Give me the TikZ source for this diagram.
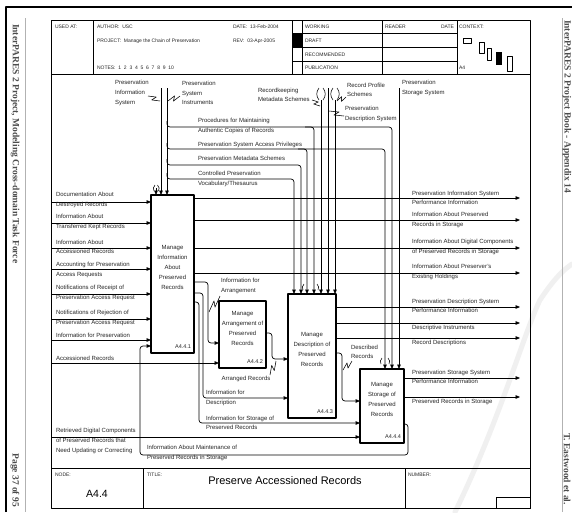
\documentclass[tikz,border=0pt]{standalone}
\usepackage{fontspec}
\setmainfont{Liberation Sans}
\newfontfamily\sideserif{Liberation Serif}
\usetikzlibrary{arrows.meta,calc}
\newcommand{\squig}[2]{\draw[squigline] #1 -- ($#1!0.62!#2!2.2pt!90:#2$) -- ($#1!0.38!#2!2.2pt!-90:#2$) -- #2;}
\begin{document}
\begin{tikzpicture}[x=1pt,y=-1pt, line join=round,
 every node/.style={inner sep=0pt, outer sep=0pt},
 lab/.style={font=\fontsize{6}{9.6}\selectfont, align=left, text=black!85},
 hd/.style={font=\fontsize{5}{6}\selectfont, anchor=base west, text=black!85},
 fbox/.style={draw, line width=1.3pt, fill=white},
 btext/.style={font=\fontsize{6}{10}\selectfont, align=center, text=black!85},
 idl/.style={font=\fontsize{5.5}{6}\selectfont, anchor=base east, text=black!85},
 wire/.style={line width=0.7pt, rounded corners=3pt},
 arr/.style={wire, -{Triangle[length=4.5pt,width=3.6pt]}},
 squigline/.style={line width=0.55pt},
 tun/.style={line width=0.55pt},
 side/.style={font=\sideserif\bfseries\fontsize{9.5}{10}\selectfont, text=black!70, rotate=-90}]
\useasboundingbox (0,0) rectangle (572,512);
% page
\fill[white] (0,0) rectangle (572,512);
\draw[gray!12, line width=5pt, line cap=round] (455,512) .. controls (500,420) and (525,330) .. (540,300) .. controls (550,285) and (560,272) .. (572,264);
\draw[line width=2pt] (6,512) -- (6,7) -- (572,7);
\draw[gray!60, line width=0.5pt] (25,18) -- (25,512);
\draw[gray!60, line width=0.5pt] (562,18) -- (562,512);
\node[side, anchor=west] (lt) at (15,24) {InterPARES 2 Project, Modeling Cross-domain Task Force};
\node[side, anchor=east] (lp) at (15,507) {Page 37 of 95};
\node[side, anchor=west] (rt) at (567,20) {InterPARES 2 Project Book - Appendix 14};
\node[side, anchor=east] (rp) at (567,505) {T. Eastwood et al.};
% frame and header
\draw[line width=0.7pt] (51,20) rectangle (530,508);
\draw[line width=0.7pt] (51,74) -- (530,74) (51,468) -- (530,468);
\draw[line width=0.6pt] (93,20)--(93,74) (292,20)--(292,74) (302,20)--(302,74) (382,20)--(382,74) (457,20)--(457,74);
\draw[line width=0.6pt] (292,33)--(457,33) (292,47)--(457,47) (292,61)--(457,61);
\fill (292,33) rectangle (302,47);
\draw[line width=0.5pt] (463,38) rectangle (471,43) (479,42) rectangle (484,53) (487,48) rectangle (491,60) (507,56) rectangle (512,71);
\fill (496,52) rectangle (502,65);
\node[hd] (h1) at (55,28) {USED AT:};
\node[hd] (h2) at (97,28) {AUTHOR:\ \ USC};
\node[hd] (h3) at (233,28) {DATE:\ \ 13-Feb-2004};
\node[hd] (h4) at (97,42) {PROJECT:\ \ Manage the Chain of Preservation};
\node[hd] (h5) at (233,42) {REV:\ \ 03-Apr-2005};
\node[hd] (h6) at (97,69) {NOTES:\ \ 1\ \ 2\ \ 3\ \ 4\ \ 5\ \ 6\ \ 7\ \ 8\ \ 9\ \ 10};
\node[hd] (h7) at (305,28) {WORKING};
\node[hd] (h8) at (305,42) {DRAFT};
\node[hd] (h9) at (305,56) {RECOMMENDED};
\node[hd] (h10) at (305,69) {PUBLICATION};
\node[hd] (h11) at (385,28) {READER};
\node[hd, anchor=base east] (h12) at (454,28) {DATE};
\node[hd] (h13) at (459,28) {CONTEXT:};
\node[hd] (h14) at (459,69) {A4};
% footer
\draw[line width=0.7pt] (143,468)--(143,508) (405,468)--(405,508) (496,497) rectangle (530,508);
\node[hd] (f1) at (55,476) {NODE:};
\node[hd] (f2) at (147,476) {TITLE:};
\node[hd] (f3) at (408,476) {NUMBER:};
\node[font=\fontsize{10.5}{12}\selectfont] (f4) at (97,494) {A4.4};
\node[font=\fontsize{11}{13}\selectfont] (f5) at (285,481) {Preserve Accessioned Records};
% boxes
\node[fbox, minimum width=43pt, minimum height=158pt] (b1) at (172.5,274) {};
\node[fbox, minimum width=47pt, minimum height=67pt] (b2) at (242.5,334.5) {};
\node[fbox, minimum width=48pt, minimum height=124pt] (b3) at (312,356) {};
\node[fbox, minimum width=44pt, minimum height=74pt] (b4) at (382,406) {};
\node[btext] (t1) at ($(b1.center)+(0,-6.5)$) {Manage\\Information\\About\\Preserved\\Records};
\node[btext] (t2) at ($(b2.center)+(0,-6.5)$) {Manage\\Arrangement of\\Preserved\\Records};
\node[btext] (t3) at ($(b3.center)+(0,-6.5)$) {Manage\\Description of\\Preserved\\Records};
\node[btext] (t4) at ($(b4.center)+(0,-6.5)$) {Manage\\Storage of\\Preserved\\Records};
\node[idl] (n1) at ($(b1.south east)+(-3,-5)$) {A4.4.1};
\node[idl] (n2) at ($(b2.south east)+(-3,-5)$) {A4.4.2};
\node[idl] (n3) at ($(b3.south east)+(-3,-5)$) {A4.4.3};
\node[idl] (n4) at ($(b4.south east)+(-3,-5)$) {A4.4.4};
% inputs to b1
\draw[arr] (51,202) -- (b1.west |- 0,202);
\draw[arr] (51,223) -- (b1.west |- 0,223);
\draw[arr] (51,248) -- (b1.west |- 0,248);
\draw[arr] (51,269) -- (b1.west |- 0,269);
\draw[arr] (51,294) -- (b1.west |- 0,294);
\draw[arr] (51,319) -- (b1.west |- 0,319);
\draw[arr] (51,340) -- (b1.west |- 0,340);
\node[lab, anchor=west] (l1) at (56,200) {Documentation About\\Destroyed Records};
\node[lab, anchor=west] (l2) at (56,222) {Information About\\Transferred Kept Records};
\node[lab, anchor=west] (l3) at (56,247) {Information About\\Accessioned Records};
\node[lab, anchor=west] (l4) at (56,270) {Accounting for Preservation\\Access Requests};
\node[lab, anchor=west] (l5) at (56,293) {Notifications of Receipt of\\Preservation Access Request};
\node[lab, anchor=west] (l6) at (56,318) {Notifications of Rejection of\\Preservation Access Request};
\node[lab, anchor=base west] (l7) at (56,337.5) {Information for Preservation};
% accessioned records to b2
\draw[arr] (51,363) -- (b2.west |- 0,363);
\node[lab, anchor=base west] (l8) at (56,360) {Accessioned Records};
% retrieved digital components to b4
\draw[arr] (51,437) -- (b4.west |- 0,437);
\node[lab, anchor=west] (l9) at (56,441) {Retrieved Digital Components\\of Preserved Records that\\Need Updating or Correcting};
% feedback loop
\draw[arr] (b4.east |- 0,424) -- (408,424) -- (408,455) -- (140,455) -- (140,346) -- (b1.west |- 0,346);
\node[lab, anchor=west] (l10) at (147,453) {Information About Maintenance of\\Preserved Records in Storage};
% outputs of b1
\draw[arr] (b1.east |- 0,198) -- (520,198);
\draw[arr] (b1.east |- 0,220) -- (520,220);
\draw[arr] (b1.east |- 0,248) -- (520,248);
\draw[arr] (b1.east |- 0,273) -- (520,273);
\node[lab, anchor=west] (o1) at (412,198) {Preservation Information System\\Performance Information};
\node[lab, anchor=west] (o2) at (412,220) {Information About Preserved\\Records in Storage};
\node[lab, anchor=west] (o3) at (412,247) {Information About Digital Components\\of Preserved Records in Storage};
\node[lab, anchor=west] (o4) at (412,272) {Information About Preserver's\\Existing Holdings};
% outputs of b3
\draw[arr] (b3.east |- 0,307) -- (520,307);
\draw[arr] (b3.east |- 0,323) -- (520,323);
\draw[arr] (b3.east |- 0,338) -- (520,338);
\node[lab, anchor=west] (o5) at (412,306) {Preservation Description System\\Performance Information};
\node[lab, anchor=base west] (o6) at (412,329.5) {Descriptive Instruments};
\node[lab, anchor=base west] (o7) at (412,344.5) {Record Descriptions};
% outputs of b4
\draw[arr] (b4.east |- 0,378) -- (520,378);
\draw[arr] (b4.east |- 0,397) -- (520,397);
\node[lab, anchor=west] (o8) at (412,377) {Preservation Storage System\\Performance Information};
\node[lab, anchor=base west] (o9) at (412,403.5) {Preserved Records in Storage};
% internal flows
\draw[arr] (b1.east |- 0,282) -- (208,282) -- (208,343) -- (b2.west |- 0,343);
\draw[arr] (b1.east |- 0,293) -- (203,293) -- (203,398) -- (b3.west |- 0,398);
\draw[arr] (b1.east |- 0,302) -- (199,302) -- (199,423) -- (b4.west |- 0,423);
\draw[arr] (b2.east |- 0,333) -- (272,333) -- (272,359) -- (b3.west |- 0,359);
\draw[arr] (b3.east |- 0,353) -- (342,353) -- (342,401) -- (b4.west |- 0,401);
\node[lab, anchor=west] (i1) at (221,286) {Information for\\Arrangement};
\node[lab, anchor=base] (i2) at (246,380) {Arranged Records};
\node[lab, anchor=west] (i3) at (206,398) {Information for\\Description};
\node[lab, anchor=west] (i4) at (206,423) {Information for Storage of\\Preserved Records};
\node[lab, anchor=west] (i5) at (351,352) {Described\\Records};
\squig{(220,296)}{(209,312)}
\squig{(270,375)}{(276,361)}
\squig{(352,361)}{(343,370)}
% controls and mechanisms from the top
\draw[arr] (161,88) -- (b1.north -| 161,0);
\draw[arr] (167,88) -- (b1.north -| 167,0);
\draw[arr] (156,188) -- (b1.north -| 156,0);
\draw[tun] (155,185) .. controls (153,187) and (153,189) .. (154,191);
\draw[tun] (157.5,185) .. controls (159.5,187) and (159.5,189) .. (158.5,191);
\node[lab, anchor=west] (c1) at (115,93) {Preservation\\Information\\System};
\node[lab, anchor=west] (c2) at (182,93) {Preservation\\System\\Instruments};
\squig{(148,96)}{(160,101)}
\squig{(180,96)}{(168,101)}
\draw[arr] (167,121) -- (167,127) -- (392,127) -- (b4.north -| 392,0);
\draw[arr] (305,127) -- (314,127) -- (b3.north -| 314,0);
\draw[arr] (167,143) -- (167,149) -- (385,149) -- (b4.north -| 385,0);
\draw[arr] (298,149) -- (307,149) -- (b3.north -| 307,0);
\draw[arr] (167,159) -- (167,165) -- (301,165) -- (b3.north -| 301,0);
\draw[arr] (167,173) -- (167,179) -- (294,179) -- (b3.north -| 294,0);
\node[lab, anchor=west] (c3) at (198,126) {Procedures for Maintaining\\Authentic Copies of Records};
\node[lab, anchor=base west] (c4) at (198,146) {Preservation System Access Privileges};
\node[lab, anchor=base west] (c5) at (198,160) {Preservation Metadata Schemes};
\node[lab, anchor=west] (c6) at (198,179) {Controlled Preservation\\Vocabulary/Thesaurus};
\draw[arr] (321,100) -- (b3.north -| 321,0);
\draw[arr] (328,88) -- (b3.north -| 328,0);
\draw[arr] (335,100) -- (b3.north -| 335,0);
\draw[tun] (319,88) .. controls (316,92) and (316,96) .. (319,100);
\draw[tun] (323,88) .. controls (326,92) and (326,96) .. (323,100);
\draw[tun] (333,88) .. controls (330,92) and (330,96) .. (333,100);
\draw[tun] (337,88) .. controls (340,92) and (340,96) .. (337,100);
\node[lab, anchor=west] (c7) at (258,95) {Recordkeeping\\Metadata Schemes};
\node[lab, anchor=west] (c8) at (347,90) {Record Profile\\Schemes};
\node[lab, anchor=west] (c9) at (345,114) {Preservation\\Description System};
\squig{(312,100)}{(320,106)}
\squig{(346,97)}{(337,101)}
\squig{(344,116)}{(329,111)}
\draw[arr] (399,88) -- (b4.north -| 399,0);
\node[lab, anchor=west] (c10) at (402,88) {Preservation\\Storage System};
\draw[tun] (304,284) .. controls (302,286) and (302,288) .. (303,290);
\draw[tun] (317,284) .. controls (319,286) and (319,288) .. (318,290);
\draw[tun] (382,358) .. controls (380,360) and (380,362) .. (381,364);
\draw[tun] (388,358) .. controls (390,360) and (390,362) .. (389,364);
\end{tikzpicture}
\end{document}
